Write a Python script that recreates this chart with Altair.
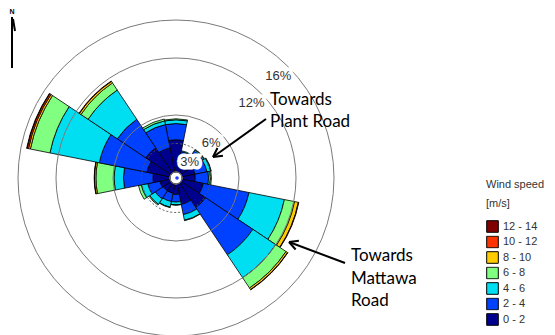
import math

import altair as alt
import pandas as pd

# ---- data -----------------------------------------------------------------
DIRECTIONS = ["N", "NNE", "NE", "ENE", "E", "ESE", "SE", "SSE",
              "S", "SSW", "SW", "WSW", "W", "WNW", "NW", "NNW"]
SPEED_BINS = ["0 - 2", "2 - 4", "4 - 6", "6 - 8", "8 - 10", "10 - 12", "12 - 14"]
BIN_COLORS = ["#00008f", "#0040ff", "#00dff2", "#80ff80", "#ffcc00", "#ff3300", "#800000"]

# frequency of occurrence (%) of each speed class, by direction N, NNE, ... NNW
FREQ_0_2 = [3.4, 1.6, 1.7, 1.4, 1.4, 2.3, 3.1, 2.2, 1.1, 1.0, 1.0, 1.1, 1.8, 2.5, 3.2, 2.6]
FREQ_2_4 = [1.7, 0.6, 1.1, 1.3, 1.4, 4.9, 6.0, 1.1, 0.8, 0.9, 1.0, 1.3, 3.1, 5.1, 3.6, 2.5]
FREQ_4_6 = [0.4, 0.1, 0.15, 0.4, 0.2, 3.8, 2.9, 0.6, 0.3, 0.6, 0.7, 0.7, 1.0, 5.3, 3.7, 0.4]
FREQ_6_8 = [0.1, 0.0, 0.05, 0.05, 0.1, 1.1, 1.3, 0.05, 0.03, 0.05, 0.1, 0.3, 1.9, 2.1, 0.9, 0.2]
FREQ_8_10 = [0.0, 0.0, 0.0, 0.0, 0.0, 0.4, 0.2, 0.0, 0.0, 0.0, 0.0, 0.0, 0.15, 0.2, 0.2, 0.0]
FREQ_10_12 = [0.0, 0.0, 0.0, 0.0, 0.0, 0.05, 0.03, 0.0, 0.0, 0.0, 0.0, 0.0, 0.03, 0.15, 0.05, 0.0]
FREQ_12_14 = [0.0, 0.0, 0.0, 0.0, 0.0, 0.0, 0.0, 0.0, 0.0, 0.0, 0.0, 0.0, 0.0, 0.05, 0.0, 0.0]

RING_VALUES = [3, 6, 12, 16]
RING_LABELS = ["3%", "6%", "12%", "16%"]

# ---- layout ---------------------------------------------------------------
W, H = 555, 335
CX, CY = 176, 178          # centre of the rose
SECTOR = 360 / len(DIRECTIONS)
LABEL_ANGLE = 45           # bearing of the ring labels
TEXT_FONT = "Lato"
AXIS_FONT = "Liberation Sans"

theta_scale = alt.Scale(type="linear", domain=[0, 360], range=[0, 2 * math.pi])
r_scale = alt.Scale(type="linear", domain=[0, 16], range=[6, 158], nice=False)

# stacked wedges: one row per direction and speed class
bin_series = [FREQ_0_2, FREQ_2_4, FREQ_4_6, FREQ_6_8, FREQ_8_10, FREQ_10_12, FREQ_12_14]
rows = []
for i, d in enumerate(DIRECTIONS):
    base = 0.0
    for b, series in zip(SPEED_BINS, bin_series):
        v = series[i]
        if v > 0:
            rows.append({"dir": d, "bin": b,
                         "a0": i * SECTOR - SECTOR / 2, "a1": i * SECTOR + SECTOR / 2,
                         "lo": base, "hi": base + v})
        base += v
wedges_df = pd.DataFrame(rows)

legend_domain = SPEED_BINS[::-1]
legend_range = BIN_COLORS[::-1]

wedges = alt.Chart(wedges_df).mark_arc(stroke="black", strokeWidth=0.8).encode(
    theta=alt.Theta("a0:Q", scale=theta_scale, stack=None),
    theta2="a1:Q",
    radius=alt.Radius("hi:Q", scale=r_scale, stack=None),
    radius2="lo:Q",
    color=alt.Color(
        "bin:N",
        scale=alt.Scale(domain=legend_domain, range=legend_range),
        legend=alt.Legend(
            title=["Wind speed", "[m/s]"],
            orient="none", legendX=486, legendY=179,
            symbolType="square", symbolSize=135,
            symbolStrokeColor="black", symbolStrokeWidth=1, symbolOpacity=1,
            labelFont=AXIS_FONT, labelFontSize=11, labelColor="#333333", labelOffset=4,
            titleFont=AXIS_FONT, titleFontSize=11, titleFontWeight="normal",
            titleColor="#333333", titleLineHeight=19, titlePadding=11,
            clipHeight=13, rowPadding=2.5, padding=0,
        ),
    ),
    x=alt.value(CX), y=alt.value(CY),
)

# grid rings (the innermost one dashed), drawn over the wedges
rings_df = pd.DataFrame({"ring": RING_VALUES, "label": RING_LABELS})
ring_base = alt.Chart(rings_df).encode(
    radius=alt.Radius("ring:Q", scale=r_scale, stack=None),
    theta=alt.value(0), theta2=alt.value(2 * math.pi),
    x=alt.value(CX), y=alt.value(CY),
)
rings_solid = ring_base.mark_arc(fill="white", fillOpacity=0, stroke="#7a7a7a",
                                 strokeWidth=1).transform_filter("datum.ring > 3")
rings_dashed = ring_base.mark_arc(fill="white", fillOpacity=0, stroke="#555555",
                                  strokeWidth=1, strokeDash=[2, 2]).transform_filter("datum.ring <= 3")

# ring labels, sitting just inside each ring with a white knock-out behind them
label_base = alt.Chart(rings_df).transform_calculate(
    lr="datum.ring - 1.4", la=f"datum.ring <= 3 ? {LABEL_ANGLE - 5} : {LABEL_ANGLE}"
).encode(
    theta=alt.Theta("la:Q", scale=theta_scale, stack=None),
    radius=alt.Radius("lr:Q", scale=r_scale, stack=None),
    text="label:N",
    x=alt.value(CX), y=alt.value(CY),
)
label_halo = label_base.mark_text(font=AXIS_FONT, fontSize=13, stroke="white",
                                  strokeWidth=7, strokeJoin="miter", fill="white")
label_text = label_base.mark_text(font=AXIS_FONT, fontSize=13, color="#333333")

# small marker at the calm centre
centre = alt.Chart(pd.DataFrame({"k": [0]})).mark_arc(color="#1f3fff").encode(
    radius=alt.value(1.8), theta=alt.value(0), theta2=alt.value(2 * math.pi),
    x=alt.value(CX + 1), y=alt.value(CY),
)

# annotations: road directions with arrows
ANNOTATION_LINES = ["Towards", "Plant Road", "Towards", "Mattawa", "Road"]
ANNOTATION_X = [270, 270, 351, 351, 351]
ANNOTATION_Y = [100, 122, 256, 279, 301]
notes_df = pd.DataFrame({"t": ANNOTATION_LINES, "x": ANNOTATION_X, "y": ANNOTATION_Y})
notes = alt.Chart(notes_df).mark_text(font=TEXT_FONT, fontSize=17, color="black",
                                      align="left", baseline="middle").encode(
    x=alt.X("x:Q", scale=None), y=alt.Y("y:Q", scale=None), text="t:N")

ARROWS = [((266, 119), (213, 157)), ((345, 263), (289, 242))]
segs = []
for (tx, ty), (hx, hy) in ARROWS:
    segs.append({"x": tx, "y": ty, "x2": hx, "y2": hy})
    back = math.atan2(ty - hy, tx - hx)
    for s in (-1, 1):
        a = back + s * math.radians(28)
        segs.append({"x": hx, "y": hy, "x2": hx + 10 * math.cos(a), "y2": hy + 10 * math.sin(a)})
# north indicator
segs.append({"x": 12, "y": 17, "x2": 12, "y2": 68})
segs.append({"x": 13, "y": 19, "x2": 15, "y2": 31})
segs_df = pd.DataFrame(segs)
arrows = alt.Chart(segs_df).mark_rule(color="black", strokeWidth=2).encode(
    x=alt.X("x:Q", scale=None), y=alt.Y("y:Q", scale=None),
    x2="x2:Q", y2="y2:Q")

north = alt.Chart(pd.DataFrame({"t": ["N"], "x": [12], "y": [12]})).mark_text(
    font=AXIS_FONT, fontSize=7, fontWeight="bold", color="black").encode(
    x=alt.X("x:Q", scale=None), y=alt.Y("y:Q", scale=None), text="t:N")

chart = alt.layer(
    wedges, rings_solid, rings_dashed, label_halo, label_text, centre, notes, arrows, north
).resolve_scale(theta="shared", radius="shared").properties(
    width=W, height=H, padding=0, autosize=alt.AutoSizeParams(type="none"),
    background="white",
).configure_view(stroke=None)

chart.save("out.html", embed_options={"renderer": "svg", "actions": False})
